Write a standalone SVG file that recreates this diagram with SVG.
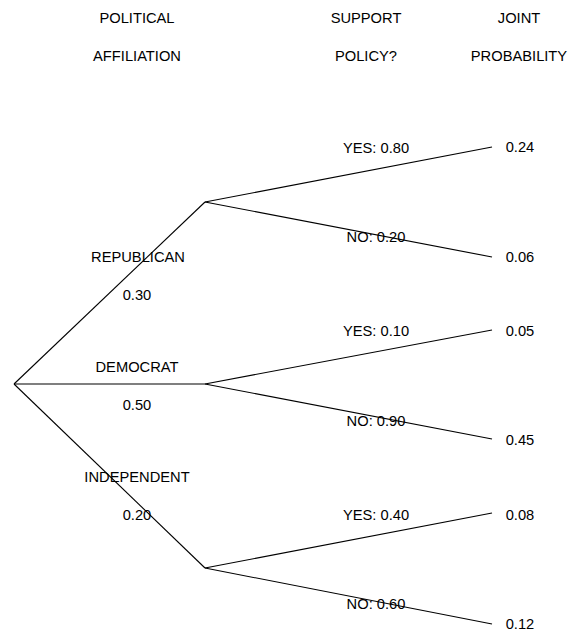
<svg xmlns="http://www.w3.org/2000/svg" width="569" height="631" viewBox="0 0 569 631">
<style>
text{font-family:"Liberation Sans",Arial,sans-serif;font-size:14.7px;fill:#000;text-anchor:middle}
line{stroke:#000;stroke-width:1.1;fill:none}
</style>
<rect width="569" height="631" fill="#fff"/>
<g id="headers">
<text x="137" y="23">POLITICAL</text>
<text x="137" y="61">AFFILIATION</text>
<text x="366" y="23">SUPPORT</text>
<text x="366" y="61">POLICY?</text>
<text x="519" y="23">JOINT</text>
<text x="519" y="61">PROBABILITY</text>
</g>
<g id="connectors">
<line x1="14" y1="384" x2="205" y2="202"/>
<line x1="14" y1="384" x2="205" y2="384"/>
<line x1="14" y1="384" x2="205" y2="568"/>
<line x1="205" y1="202" x2="492" y2="147"/>
<line x1="205" y1="202" x2="492" y2="257"/>
<line x1="205" y1="384" x2="492" y2="330"/>
<line x1="205" y1="384" x2="492" y2="439"/>
<line x1="205" y1="568" x2="492" y2="513"/>
<line x1="205" y1="568" x2="492" y2="624"/>
</g>
<g id="republican">
<text x="138" y="262">REPUBLICAN</text>
<text x="137" y="300">0.30</text>
</g>
<g id="democrat">
<text x="137" y="372">DEMOCRAT</text>
<text x="137" y="410">0.50</text>
</g>
<g id="independent">
<text x="137" y="482">INDEPENDENT</text>
<text x="137" y="520">0.20</text>
</g>
<g id="rep-yes"><text x="376" y="153">YES: 0.80</text><text x="520" y="152">0.24</text></g>
<g id="rep-no"><text x="376" y="242">NO: 0.20</text><text x="520" y="262">0.06</text></g>
<g id="dem-yes"><text x="376" y="336">YES: 0.10</text><text x="520" y="336">0.05</text></g>
<g id="dem-no"><text x="376" y="426">NO: 0.90</text><text x="520" y="445">0.45</text></g>
<g id="ind-yes"><text x="376" y="520">YES: 0.40</text><text x="520" y="520">0.08</text></g>
<g id="ind-no"><text x="376" y="609">NO: 0.60</text><text x="520" y="629">0.12</text></g>
</svg>
